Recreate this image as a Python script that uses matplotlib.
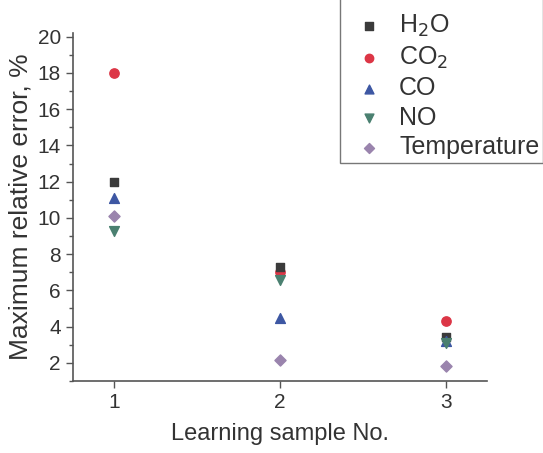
import matplotlib
matplotlib.use('Agg')
import matplotlib.pyplot as plt
from matplotlib.ticker import MultipleLocator

plt.rcParams['font.family'] = ['Liberation Sans', 'DejaVu Sans']

samples = [1, 2, 3]
h2o = [12.0, 7.3, 3.4]
co2 = [18.0, 7.0, 4.3]
co = [11.1, 4.45, 3.2]
no = [9.3, 6.55, 3.1]
temperature = [10.1, 2.15, 1.8]

labels = ['H$_2$O', 'CO$_2$', 'CO', 'NO', 'Temperature']

fig = plt.figure(figsize=(5.43, 4.53), dpi=100)
ax = fig.add_axes([0.134, 0.159, 0.763, 0.768])

ax.scatter(samples, h2o, marker='s', s=38, color='#3b3b3b', label=labels[0], zorder=3)
ax.scatter(samples, co2, marker='o', s=45, color='#dc3646', label=labels[1], zorder=2)
ax.scatter(samples, co, marker='^', s=50, color='#3d57a3', label=labels[2], zorder=3)
ax.scatter(samples, no, marker='v', s=50, color='#4a8070', label=labels[3], zorder=3)
ax.scatter(samples, temperature, marker='D', s=32, color='#9a84ad', label=labels[4], zorder=3)

ax.set_xlim(0.75, 3.25)
ax.set_ylim(1.0, 20.2)
ax.set_xticks(samples)
ax.yaxis.set_major_locator(MultipleLocator(2))
ax.yaxis.set_minor_locator(MultipleLocator(1))
ax.set_yticks(range(2, 21, 2))

ax.spines['top'].set_visible(False)
ax.spines['right'].set_visible(False)
for s in ['left', 'bottom']:
    ax.spines[s].set_color('#555555')
    ax.spines[s].set_linewidth(1.2)

ax.tick_params(axis='both', which='major', direction='out', length=5, width=1,
               colors='#555555', labelcolor='#333333', labelsize=15)
ax.tick_params(axis='y', which='minor', direction='out', length=3, width=1, colors='#555555')

ax.set_xlabel('Learning sample No.', fontsize=17, color='#333333', labelpad=8)
ax.set_ylabel('Maximum relative error, %', fontsize=19, color='#333333', labelpad=4)

# legend box runs off the top/right edge like in the original figure
leg = fig.legend(loc='lower left', bbox_to_anchor=(0.627, 0.64), fontsize=18,
                 frameon=True, fancybox=False, edgecolor='#555555',
                 labelspacing=0.22, handlelength=2.0, handletextpad=0.2,
                 borderpad=0.15, borderaxespad=0.0,
                 scatterpoints=1, markerscale=0.9,
                 title=' ', title_fontsize=10)
leg.get_frame().set_linewidth(1.0)
for t in leg.get_texts():
    t.set_color('#333333')

fig.savefig('out.png', dpi=100)
